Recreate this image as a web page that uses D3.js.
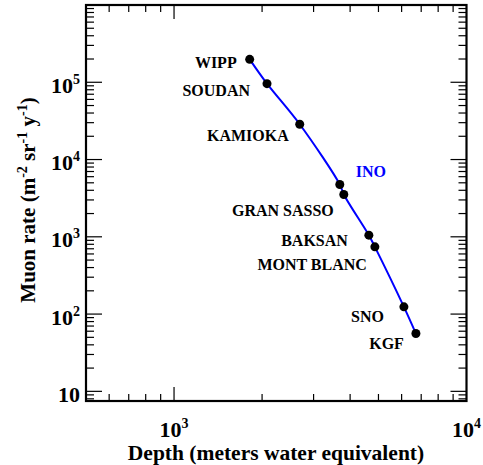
<!DOCTYPE html>
<html><head><meta charset="utf-8">
<script src="https://cdn.jsdelivr.net/npm/d3@7"></script>
<style>body{margin:0;background:#fff}svg{display:block}text{font-family:"Liberation Serif","Times New Roman",serif;font-weight:bold}</style>
</head><body><svg id="c" width="483" height="465"></svg>
<script>
const names = ["WIPP","SOUDAN","KAMIOKA","INO","GRAN SASSO","BAKSAN","MONT BLANC","SNO","KGF"];
const depth = [1814, 2079, 2690, 3688, 3806, 4636, 4861, 6109, 6714];
const rate = [1.98e5, 9.6e4, 2.86e4, 4750, 3530, 1050, 741, 124, 56];
const xTickLabels = [[1000,"3"],[10000,"4"]];
const yTickLabels = [[10,""],[100,"2"],[1000,"3"],[10000,"4"],[100000,"5"]];
const xTitle = "Depth (meters water equivalent)";

// label placement (style, px offsets from marker)
const labelStyle = [[-13,3,"end","#000"],[-17,7,"end","#000"],[-11,11,"end","#000"],[16,-13,"start","#0000ff"],
  [-10,16,"end","#000"],[-21,5,"end","#000"],[-8,18,"end","#000"],[-20,10,"end","#000"],[-12,10,"end","#000"]];

const W=483,H=465, L=86, R=466.5, T=5, B=401;
const svg = d3.select("#c");
const x = d3.scaleLog().domain([500,10000]).range([L,R]);
const y = d3.scaleLog().domain([7.5,1e6]).range([B,T]);
const isMajor = v => Math.abs(Math.log10(v)-Math.round(Math.log10(v)))<1e-9;

const g = svg.append("g").attr("stroke","#000").attr("stroke-width",1.2);
x.ticks().forEach(v=>{
  if (v<=500||v>=10000) return;
  const len = isMajor(v)?14:7, px=x(v);
  g.append("line").attr("x1",px).attr("x2",px).attr("y1",B).attr("y2",B-len);
  g.append("line").attr("x1",px).attr("x2",px).attr("y1",T).attr("y2",T+len);
});
y.ticks().forEach(v=>{
  if (v<7.6||v>=1e6) return;
  const len = isMajor(v)?16:8, py=y(v);
  g.append("line").attr("x1",L).attr("x2",L+len).attr("y1",py).attr("y2",py);
  g.append("line").attr("x1",R).attr("x2",R-len).attr("y1",py).attr("y2",py);
});
svg.append("rect").attr("x",L).attr("y",T).attr("width",R-L).attr("height",B-T)
  .attr("fill","none").attr("stroke","#000").attr("stroke-width",2.2);

// tick labels
xTickLabels.forEach(([v,e])=>{
  const t = svg.append("text").attr("x",x(v)).attr("y",437).attr("text-anchor","middle").attr("font-size",22);
  t.append("tspan").text("10");
  t.append("tspan").attr("dy",-9).attr("font-size",14).text(e);
});
yTickLabels.forEach(([v,e])=>{
  const t = svg.append("text").attr("x",80).attr("y",y(v)+10.5).attr("text-anchor","end").attr("font-size",22);
  t.append("tspan").text("10");
  if (e) t.append("tspan").attr("dy",-9).attr("font-size",14).text(e);
});

// titles
svg.append("text").attr("x",276).attr("y",460).attr("text-anchor","middle").attr("font-size",21.5).text(xTitle);
const yt = svg.append("text").attr("transform","translate(35,200) rotate(-90)").attr("text-anchor","middle").attr("font-size",21);
yt.append("tspan").text("Muon rate (m");
yt.append("tspan").attr("dy",-8).attr("font-size",14).text("-2");
yt.append("tspan").attr("dy",8).text(" sr");
yt.append("tspan").attr("dy",-8).attr("font-size",14).text("-1");
yt.append("tspan").attr("dy",8).text(" y");
yt.append("tspan").attr("dy",-8).attr("font-size",14).text("-1");
yt.append("tspan").attr("dy",8).text(")");

// data
const data = names.map((n,i)=>({name:n,depth:depth[i],rate:rate[i]}));
svg.append("path").datum(data)
  .attr("d", d3.line().x(d=>x(d.depth)).y(d=>y(d.rate)).curve(d3.curveCatmullRom.alpha(0.5)))
  .attr("fill","none").attr("stroke","#0000ff").attr("stroke-width",2);
svg.selectAll("circle.p").data(data).join("circle")
  .attr("cx",d=>x(d.depth)).attr("cy",d=>y(d.rate)).attr("r",4.5).attr("fill","#000");
svg.selectAll("text.lab").data(data).join("text").attr("class","lab")
  .attr("x",(d,i)=>x(d.depth)+labelStyle[i][0])
  .attr("y",(d,i)=>y(d.rate)+labelStyle[i][1]+5.5)
  .attr("text-anchor",(d,i)=>labelStyle[i][2])
  .attr("fill",(d,i)=>labelStyle[i][3])
  .attr("font-size",16).text(d=>d.name);
</script></body></html>
